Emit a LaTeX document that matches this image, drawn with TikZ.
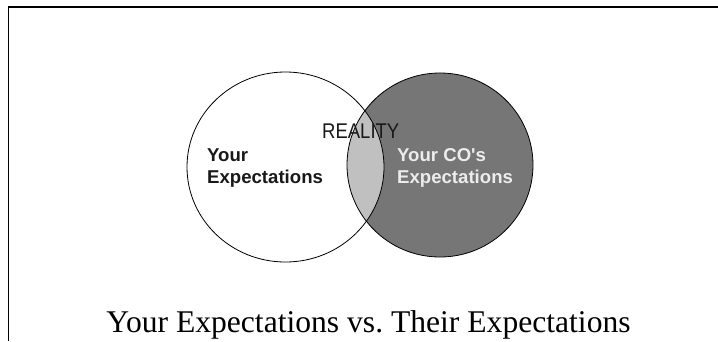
\documentclass[tikz,border=0pt]{standalone}
\usepackage{fontspec}
\setmainfont{Liberation Serif}
\newfontfamily\arialf{Liberation Sans}
\definecolor{darkfill}{RGB}{118,118,118}
\definecolor{lightfill}{RGB}{192,192,192}
\definecolor{labelwhite}{RGB}{236,236,236}
\definecolor{inkgray}{RGB}{25,25,25}
\begin{document}
\begin{tikzpicture}[x=1pt,y=-1pt,
  outline/.style={draw=black,line width=0.8pt},
  frameline/.style={draw=black,line width=1.6pt},
  lbl/.style={inner sep=0pt,anchor=base west,font=\arialf\bfseries\fontsize{18.6}{22}\selectfont},
  reallbl/.style={inner sep=0pt,anchor=base west,text=inkgray,font=\arialf\fontsize{18.5}{22}\selectfont},
  titlelbl/.style={inner sep=0pt,anchor=base,font=\fontsize{31.6}{36}\selectfont}]
\useasboundingbox (0,0) rectangle (718,341);
\fill[white] (0,0) rectangle (718,341);
% frame
\coordinate (fa) at (718,6.8);
\coordinate (fb) at (8.3,6.8);
\coordinate (fc) at (8.3,341);
\draw[frameline] (fa) -- (fb) -- (fc);
% circles
\coordinate (cl) at (285.5,167);
\coordinate (cr) at (440,165);
\fill[darkfill] (cr) ellipse [x radius=93pt, y radius=92pt];
\begin{scope}
  \clip (cr) ellipse [x radius=93pt, y radius=92pt];
  \fill[lightfill] (cl) ellipse [x radius=98.5pt, y radius=95pt];
\end{scope}
\draw[outline] (cl) ellipse [x radius=98.5pt, y radius=95pt];
\draw[outline] (cr) ellipse [x radius=93pt, y radius=92pt];
% labels
\node[reallbl] (reality) at (322,138) {\scalebox{1}[1.15]{REALITY}};
\node[lbl,text=inkgray] (yourA) at (207,161) {Your};
\node[lbl,text=inkgray] (yourB) at (207,183) {Expectations};
\node[lbl,text=labelwhite] (coA) at (397,161) {Your CO\textquotesingle s};
\node[lbl,text=labelwhite] (coB) at (397,183) {Expectations};
\node[titlelbl] (title) at (368.5,332) {Your Expectations vs.\ Their Expectations};
\end{tikzpicture}
\end{document}
